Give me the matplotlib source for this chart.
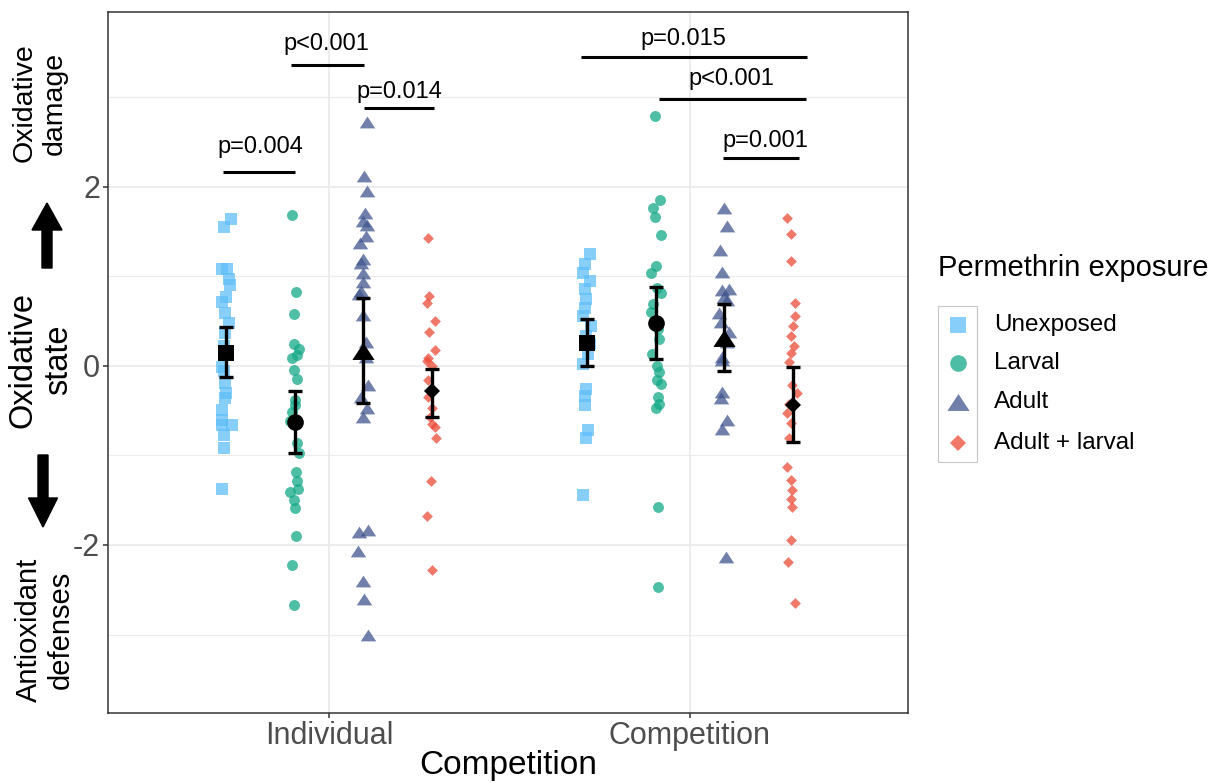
import numpy as np
import matplotlib.pyplot as plt
from matplotlib.lines import Line2D
from matplotlib.patches import FancyArrow, Rectangle

plt.rcParams['font.family'] = ['Liberation Sans', 'DejaVu Sans']

W, H = 1222, 783

# --- data ---
competition = ['Individual', 'Competition']
exposure = ['Unexposed', 'Larval', 'Adult', 'Adult + larval']

ind_unexposed = [1.64, 1.55, 1.08, 1.08, 0.97, 0.905, 0.77, 0.72, 0.59, 0.48, 0.365, 0.22,
                 -0.01, -0.06, -0.19, -0.305, -0.36, -0.49, -0.60, -0.66, -0.66, -0.77, -0.92, -1.37]
ind_larval = [1.687, 0.83, 0.58, 0.246, 0.19, 0.086, 0.12, -0.04, -0.15, -0.38, -0.44, -0.51,
              -0.62, -0.865, -0.975, -1.18, -1.29, -1.37, -1.41, -1.50, -1.59, -1.90, -2.22, -2.67]
ind_adult = [2.73, 2.12, 1.95, 1.71, 1.62, 1.58, 1.45, 1.37, 1.19, 1.15, 1.035, 0.94, 0.84, 0.80,
             0.57, 0.27, 0.10, -0.21, -0.35, -0.47, -0.57, -1.855, -1.835, -2.07, -2.40, -2.60, -3.01]
ind_combined = [1.43, 0.78, 0.70, 0.50, 0.38, 0.18, 0.09, 0.06, 0.0, -0.16, -0.27, -0.35, -0.47,
                -0.57, -0.645, -0.68, -0.81, -1.28, -1.68, -2.28]
comp_unexposed = [1.25, 1.135, 1.04, 0.95, 0.86, 0.75, 0.65, 0.56, 0.45, 0.34, 0.245, 0.13, 0.02,
                  -0.26, -0.33, -0.44, -0.72, -0.81, -1.44]
comp_larval = [2.79, 1.85, 1.77, 1.67, 1.46, 1.12, 1.035, 0.875, 0.82, 0.69, 0.60, 0.41, 0.30,
               0.13, 0.0, -0.07, -0.16, -0.20, -0.35, -0.43, -0.47, -1.57, -2.47]
comp_adult = [1.76, 1.56, 1.30, 1.05, 0.85, 0.86, 0.77, 0.74, 0.59, 0.495, 0.38, 0.27, 0.10, 0.07,
              -0.29, -0.36, -0.60, -0.70, -2.13]
comp_combined = [1.65, 1.47, 1.17, 0.70, 0.56, 0.45, 0.34, 0.22, 0.14, 0.05, -0.21, -0.305, -0.42,
                 -0.53, -0.64, -0.81, -1.125, -1.27, -1.385, -1.49, -1.57, -1.94, -2.19, -2.65]

# horizontal jitter of each point (category units), as seen in the picture
jit_ind_unexposed = [0.014, -0.007, -0.012, 0.004, 0.009, 0.011, 0, -0.012, -0.003, 0.009, -0.003, -0.007,
                     -0.012, -0.007, -0.003, 0, -0.003, -0.012, -0.012, 0.016, -0.012, -0.007, -0.005, -0.010]
jit_ind_larval = [-0.006, 0.005, -0.003, -0.003, 0.011, -0.007, 0.006, -0.003, 0.006, 0.002, 0.002, -0.007,
                  -0.012, 0.006, 0.011, 0.005, 0.006, 0.009, -0.014, -0.003, 0.002, 0.005, -0.006, -0.003]
jit_ind_adult = [0.010, 0.003, 0.010, 0.006, -0.002, 0.011, 0.008, -0.009, -0.002, -0.007, 0, -0.002, -0.007,
                 -0.012, -0.002, 0.008, 0.008, 0.014, -0.007, 0.011, -0.002, -0.012, 0.012, -0.014, 0, 0.003, 0.012]
jit_ind_combined = [-0.010, -0.008, -0.014, 0.010, -0.008, 0.010, -0.010, -0.014, 0, -0.010, 0, -0.010, 0,
                    -0.005, 0, 0.010, 0.012, -0.002, -0.012, 0]
jit_comp_unexposed = [0.007, -0.006, -0.011, 0.007, -0.006, -0.002, -0.006, -0.011, 0.012, -0.002, 0.007,
                      0.003, -0.011, -0.002, -0.006, -0.006, 0.003, -0.002, -0.011]
jit_comp_larval = [-0.003, 0.012, -0.006, -0.002, 0.014, 0, -0.012, 0.005, 0.014, -0.006, -0.014, 0.006,
                   0.009, -0.009, 0.005, 0.009, 0.005, 0.014, 0.006, 0.009, 0, 0.006, 0.007]
jit_comp_adult = [-0.002, 0.007, -0.011, -0.007, -0.005, 0.014, 0, 0.009, -0.014, -0.009, 0.014, 0.009,
                  -0.005, -0.005, -0.005, -0.009, 0.009, -0.007, 0.005]
jit_comp_combined = [-0.016, -0.004, -0.004, 0.006, 0.006, 0, -0.004, 0.003, -0.006, -0.011, -0.002, 0.012,
                     -0.011, -0.016, -0.006, -0.011, -0.016, -0.006, -0.002, -0.006, -0.002, -0.004, -0.013, 0.007]

mean_ind = [0.15, -0.63, 0.165, -0.285]
ci_low_ind = [-0.12, -0.975, -0.41, -0.565]
ci_high_ind = [0.44, -0.28, 0.755, -0.03]
mean_comp = [0.26, 0.48, 0.31, -0.44]
ci_low_comp = [0.0, 0.08, -0.06, -0.85]
ci_high_comp = [0.52, 0.88, 0.69, -0.01]

# significance brackets: x start, x end, height, label, label x, label baseline
brackets = [
    (0.706, 0.906, 2.17, 'p=0.004', 0.810, 2.38),
    (0.895, 1.097, 3.36, 'p<0.001', 0.992, 3.53),
    (1.097, 1.291, 2.88, 'p=0.014', 1.194, 2.99),
    (1.698, 2.324, 3.45, 'p=0.015', 1.983, 3.59),
    (1.914, 2.321, 2.98, 'p<0.001', 2.116, 3.14),
    (2.091, 2.302, 2.32, 'p=0.001', 2.208, 2.45),
]

# --- styling ---
colors = ['#5FBEF8', '#12A887', '#40568E', '#EB4B37']
legend_colors = ['#87CEFA', '#4DBEA5', '#7080AA', '#F07869']
tri = [(-1, -0.76), (1, -0.76), (0, 0.76)]
markers = ['s', 'o', tri, 'D']
point_size = [66, 62, 125, 30]
mean_size = [11.5, 12, 16, 8.6]
legend_size = [12, 12, 16, 8.6]
dodge = [-0.285, -0.095, 0.095, 0.285]

groups = [
    [(ind_unexposed, jit_ind_unexposed), (ind_larval, jit_ind_larval),
     (ind_adult, jit_ind_adult), (ind_combined, jit_ind_combined)],
    [(comp_unexposed, jit_comp_unexposed), (comp_larval, jit_comp_larval),
     (comp_adult, jit_comp_adult), (comp_combined, jit_comp_combined)],
]
means = [mean_ind, mean_comp]
lows = [ci_low_ind, ci_low_comp]
highs = [ci_high_ind, ci_high_comp]

fig = plt.figure(figsize=(W / 100, H / 100), dpi=100)
ax = fig.add_axes([108 / W, 1 - 713 / H, 800 / W, 701 / H])

for c in range(len(competition)):
    for g in range(len(exposure)):
        vals, jit = groups[c][g]
        x = c + 1 + dodge[g] + np.array(jit)
        ax.scatter(x, vals, s=point_size[g], marker=markers[g], color=colors[g],
                   alpha=0.75, linewidths=0, zorder=3)
    for g in range(len(exposure)):
        xm = c + 1 + dodge[g]
        m = means[c][g]
        ax.errorbar([xm], [m], yerr=[[m - lows[c][g]], [highs[c][g] - m]], fmt='none',
                    ecolor='black', elinewidth=2.4, capsize=4.8, capthick=2.4, zorder=4)
        ax.plot([xm], [m], marker=markers[g], markersize=mean_size[g], color='black',
                markeredgewidth=0, zorder=5)

for x0, x1, y, label, tx, ty in brackets:
    ax.plot([x0, x1], [y, y], color='black', lw=2.2, solid_capstyle='butt', zorder=4)
    ax.text(tx, ty, label, ha='center', va='baseline', fontsize=17)

ax.set_xlim(0.388, 2.604)
ax.set_ylim(-3.877, 3.955)
ax.set_xticks([1, 2])
ax.set_xticklabels(competition)
ax.set_yticks([-2, 0, 2])
ax.set_yticklabels(['-2', '0', '2'])
ax.set_yticks([-3, -1, 1, 3], minor=True)
ax.tick_params(axis='both', which='major', labelsize=22, labelcolor='#4D4D4D', color='#333333',
               length=3.6, width=1.1, pad=2)
ax.tick_params(axis='y', which='minor', length=0)
ax.grid(True, which='major', color='#EBEBEB', lw=1.3, zorder=0)
ax.grid(True, which='minor', axis='y', color='#EBEBEB', lw=0.8, zorder=0)
ax.set_axisbelow(True)
for sp in ax.spines.values():
    sp.set_color('#333333')
    sp.set_linewidth(1.1)

ax.set_xlabel('Competition', fontsize=24, va='center')
ax.xaxis.set_label_coords(0.5, -0.0755)

# left-hand annotation: direction of the oxidative state scale
fig.text(40 / W, 1 - 103 / H, 'Oxidative\ndamage', rotation=90, ha='center', va='center',
         fontsize=20.5, multialignment='center')
fig.text(41 / W, 1 - 360 / H, 'Oxidative\nstate', rotation=90, ha='center', va='center',
         fontsize=23.5, multialignment='center')
fig.text(45 / W, 1 - 630 / H, 'Antioxidant\ndefenses', rotation=90, ha='center', va='center',
         fontsize=21, multialignment='center')
fig.add_artist(FancyArrow(0.47, (H - 268) / 100, 0, 0.65, width=0.10, head_width=0.30,
                          head_length=0.27, length_includes_head=True, color='black',
                          transform=fig.dpi_scale_trans))
fig.add_artist(FancyArrow(0.43, (H - 455) / 100, 0, -0.72, width=0.10, head_width=0.29,
                          head_length=0.29, length_includes_head=True, color='black',
                          transform=fig.dpi_scale_trans))

# legend
fig.text(938 / W, 1 - 268 / H, 'Permethrin exposure', fontsize=21, ha='left', va='center')
fig.add_artist(Rectangle((938 / W, 1 - 462 / H), 39 / W, 156 / H, transform=fig.transFigure,
                         fill=False, edgecolor='#C8C8C8', lw=0.8))
rows = [325, 363, 402, 443]
for g, label in enumerate(exposure):
    fig.add_artist(Line2D([958 / W], [1 - rows[g] / H], transform=fig.transFigure,
                          marker=markers[g], markersize=legend_size[g], color=legend_colors[g],
                          markeredgewidth=0, linestyle='none'))
    fig.text(994 / W, 1 - rows[g] / H, label, fontsize=17.5, ha='left', va='center')

fig.savefig('out.png', dpi=100)
